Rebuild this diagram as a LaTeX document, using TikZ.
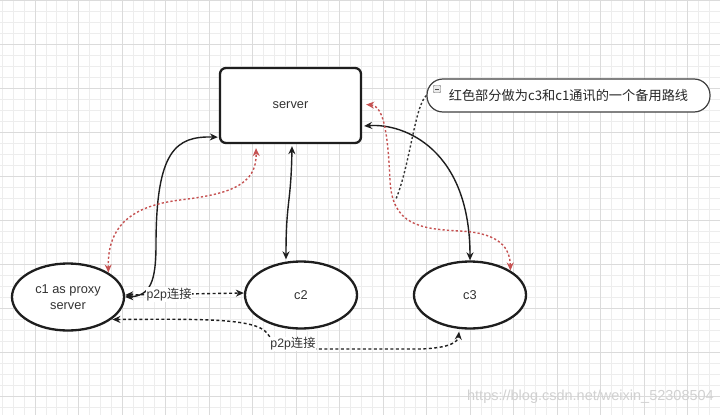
\documentclass[tikz,border=0pt]{standalone}
\usepackage{fontspec}
\setmainfont{Liberation Sans}
\newfontfamily\cjk{Noto Sans CJK SC}
\usetikzlibrary{arrows.meta,shapes.geometric}
\definecolor{redline}{RGB}{198,82,82}
\definecolor{ink}{RGB}{30,30,30}
\begin{document}
\begin{tikzpicture}[x=1pt,y=-1pt,
  box/.style={draw=ink, line width=2.3pt, rounded corners=6pt, minimum width=141pt, minimum height=75pt, fill=white, font=\fontsize{12.8}{15}\selectfont, text=black!80},
  ell/.style={draw=ink, ellipse, line width=2.3pt, minimum width=112pt, minimum height=67pt, fill=white, inner sep=0pt, align=center, font=\fontsize{12.8}{15.5}\selectfont, text=black!80},
  notebox/.style={draw=black!75, line width=1.2pt, rounded corners=16pt, minimum width=283pt, minimum height=33pt, fill=white, font=\cjk\fontsize{13.2}{15}\selectfont, text=black!85},
  solidlink/.style={draw=ink, line width=1.4pt, {Stealth[length=8pt,width=7pt]}-{Stealth[length=8pt,width=7pt]}},
  redlink/.style={draw=redline, line width=1.4pt, dash pattern=on 2.2pt off 2.2pt, {Stealth[length=8pt,width=7pt]}-{Stealth[length=8pt,width=7pt]}},
  p2plink/.style={draw=ink, line width=1.4pt, dash pattern=on 3pt off 2.5pt, {Stealth[length=8pt,width=7pt]}-{Stealth[length=8pt,width=7pt]}},
  pointer/.style={draw=ink!90, line width=1.4pt, dash pattern=on 2.2pt off 2.2pt},
  lbl/.style={fill=white, inner sep=0.8pt, font=\fontsize{12.3}{14}\selectfont, text=black!80},
  wm/.style={font=\fontsize{14.5}{16}\selectfont, text=black!18}
]
\useasboundingbox (0,0) rectangle (720,415);
\fill[white] (0,0) rectangle (720,415);
% grid
\foreach \i in {-3,...,68} {
  \draw[black!7, line width=0.6pt] ({35+\i*10.875},0) -- ({35+\i*10.875},415);
}
\foreach \i in {-3,...,40} {
  \draw[black!7, line width=0.6pt] (0,{0+\i*11}) -- (720,{0+\i*11});
}
\foreach \i in {0,...,16} {
  \draw[black!14, line width=0.8pt] ({35+\i*43.5},0) -- ({35+\i*43.5},415);
}
\foreach \i in {0,...,9} {
  \draw[black!14, line width=0.8pt] (0,{0+\i*44}) -- (720,{0+\i*44});
}

% nodes
\node[box] (server) at (290.5,105.5) {server};
\node[ell] (c1) at (68,297) {c1 as proxy\\server};
\node[ell] (c2) at (301,295) {c2};
\node[ell] (c3) at (470,295) {c3};
\node[notebox] (note) at (568.5,95.5) {红色部分做为c3和c1通讯的一个备用路线};
\node[draw=black!55, fill=black!8, minimum size=7.5pt, inner sep=0pt, rounded corners=1pt] (icon) at (437,89) {};
\draw[black!70, line width=1pt] ([xshift=1.8pt]icon.west) -- ([xshift=-1.8pt]icon.east);
\coordinate (ptr) at (396,199);

% server <-> c1 (solid)
\draw[solidlink] (c1.east) .. controls (150,296) and (156,282) .. (156,245)
  .. controls (156,150) and (176,136) .. ([xshift=-1pt,yshift=7pt]server.south west);
% server <-> c2
\draw[solidlink] ([xshift=1.5pt,yshift=-2pt]server.south) .. controls (291,205) and (286,200) .. ([xshift=-15pt,yshift=1pt]c2.north);
% server <-> c3
\draw[solidlink] ([xshift=2pt,yshift=-20.5pt]server.east) .. controls (405,123) and (470,150) .. (c3.north);

% red backup routes
\draw[redlink] (c1.north east) .. controls (107,220) and (140,205) .. (180,200)
  .. controls (230,194) and (257,185) .. ([xshift=-34.5pt,yshift=-4pt]server.south);
\draw[redlink] ([xshift=4pt,yshift=1pt]server.east) .. controls (385,106) and (388,140) .. (390,180)
  .. controls (392,225) and (420,229) .. (460,231)
  .. controls (500,233) and (510,248) .. (c3.north east);

% note pointer
\draw[pointer] (note.west) .. controls (415,105) and (410,165) .. (ptr);

% p2p links
\draw[p2plink] ([yshift=2pt]c1.east) -- node[lbl, pos=0.37] (l1) {p2p{\cjk 连接}} ([yshift=2pt]c2.west);
\draw[p2plink] ([xshift=4pt,yshift=2pt]c1.south east) .. controls (200,319) and (255,318) .. (267,333)
  .. controls (276,347) and (292,349) .. (320,349) -- (420,349)
  .. controls (450,348) and (458,342) .. ([xshift=-11pt,yshift=-2pt]c3.south);
\node[lbl] (l2) at (293,344) {p2p{\cjk 连接}};

% watermark
\node[wm, anchor=east, inner sep=0pt] (wmark) at (714,397) {https://blog.csdn.net/weixin\_52308504};
\end{tikzpicture}
\end{document}
